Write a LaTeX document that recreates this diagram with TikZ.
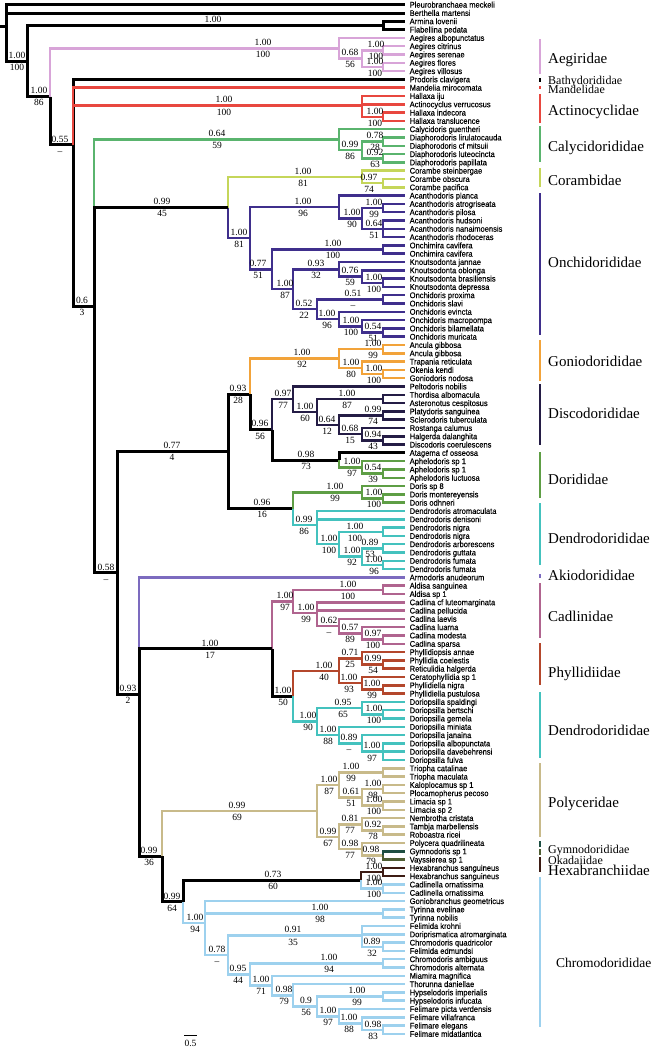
\documentclass[tikz,border=0pt]{standalone}
\usepackage{fontspec}
\setmainfont{Liberation Serif}
\setsansfont{Liberation Sans}
\newfontfamily\tipfont[FakeStretch=0.92,FakeBold=0.2]{Liberation Sans}
\usetikzlibrary{calc}

\definecolor{aegc}{RGB}{216,164,216}
\definecolor{actc}{RGB}{232,71,63}
\definecolor{cyc}{RGB}{90,180,110}
\definecolor{corc}{RGB}{197,214,90}
\definecolor{oncc}{RGB}{63,47,140}
\definecolor{gonc}{RGB}{242,163,58}
\definecolor{disc}{RGB}{36,28,69}
\definecolor{dorc}{RGB}{94,158,69}
\definecolor{denc}{RGB}{68,194,190}
\definecolor{akic}{RGB}{124,107,191}
\definecolor{cadc}{RGB}{176,100,143}
\definecolor{phyc}{RGB}{180,71,44}
\definecolor{polc}{RGB}{200,186,138}
\definecolor{gymc}{RGB}{30,78,66}
\definecolor{okac}{RGB}{79,94,51}
\definecolor{hexc}{RGB}{61,28,20}
\definecolor{chrc}{RGB}{157,209,238}

% internal node = mean of its children, put at column x
\newcommand{\cltwo}[4]{\path ($(#3)!.5!(#4)$) coordinate (#1m); \coordinate (#1) at (#1m -| #2,0);}
\newcommand{\clthree}[5]{\path ($0.333333*(#3)+0.333333*(#4)+0.333334*(#5)$) coordinate (#1m); \coordinate (#1) at (#1m -| #2,0);}
\newcommand{\clfour}[6]{\path ($0.25*(#3)+0.25*(#4)+0.25*(#5)+0.25*(#6)$) coordinate (#1m); \coordinate (#1) at (#1m -| #2,0);}
% posterior above, bootstrap below the branch into a node
\newcommand{\sv}[4]{\node[pp] (#1p) at (#1 -| #2,0) {#3}; \node[bs] (#1b) at (#1 -| #2,0) {\vphantom{0}#4};}

\tikzset{
  br/.style={line width=2.5pt},
  bk/.style={line width=3pt, black},
  tip/.style={font=\tipfont\fontsize{8.2}{8.5}\selectfont, anchor=base west, inner sep=0pt},
  pp/.style={font=\fontsize{9.5}{10}\selectfont, anchor=south, inner sep=0pt, yshift=2.4pt},
  bs/.style={font=\fontsize{9.5}{10}\selectfont, anchor=north, inner sep=0pt, yshift=-2.8pt},
  fam/.style={font=\fontsize{15}{16}\selectfont, anchor=base west, inner sep=0pt},
  smallfam/.style={font=\fontsize{12}{13}\selectfont, anchor=base west, inner sep=0pt},
  bar/.style={line width=2.6pt},
}

\begin{document}
\begin{tikzpicture}[x=1pt,y=-1pt]
\useasboundingbox (0,0) rectangle (653,1047);
% tips
\foreach \nm [count=\i] in {Pleurobranchaea meckeli, Berthella martensi, Armina lovenii, Flabellina pedata,
 Aegires albopunctatus, Aegires citrinus, Aegires serenae, Aegires flores, Aegires villosus,
 Prodoris clavigera, Mandelia mirocomata, Hallaxa iju, Actinocyclus verrucosus, Hallaxa indecora,
 Hallaxa translucence, Calycidoris guentheri, Diaphorodoris lirulatocauda, Diaphorodoris cf mitsuii,
 Diaphorodoris luteocincta, Diaphorodoris papillata, Corambe steinbergae, Corambe obscura,
 Corambe pacifica, Acanthodoris planca, Acanthodoris atrogriseata, Acanthodoris pilosa,
 Acanthodoris hudsoni, Acanthodoris nanaimoensis, Acanthodoris rhodoceras, Onchimira cavifera,
 Onchimira cavifera, Knoutsodonta jannae, Knoutsodonta oblonga, Knoutsodonta brasiliensis,
 Knoutsodonta depressa, Onchidoris proxima, Onchidoris slavi, Onchidoris evincta,
 Onchidoris macropompa, Onchidoris bilamellata, Onchidoris muricata, Ancula gibbosa, Ancula gibbosa,
 Trapania reticulata, Okenia kendi, Goniodoris nodosa, Peltodoris nobilis, Thordisa albomacula,
 Asteronotus cespitosus, Platydoris sanguinea, Sclerodoris tuberculata, Rostanga calumus,
 Halgerda dalanghita, Discodoris coerulescens, Atagema cf osseosa, Aphelodoris sp 1,
 Aphelodoris sp 1, Aphelodoris luctuosa, Doris sp 8, Doris montereyensis, Doris odhneri,
 Dendrodoris atromaculata, Dendrodoris denisoni, Dendrodoris nigra, Dendrodoris nigra,
 Dendrodoris arborescens, Dendrodoris guttata, Dendrodoris fumata, Dendrodoris fumata,
 Armodoris anudeorum, Aldisa sanguinea, Aldisa sp 1, Cadlina cf luteomarginata, Cadlina pellucida,
 Cadlina laevis, Cadlina luarna, Cadlina modesta, Cadlina sparsa, Phyllidiopsis annae,
 Phyllidia coelestis, Reticulidia halgerda, Ceratophyllidia sp 1, Phyllidiella nigra,
 Phyllidiella pustulosa, Doriopsilla spaldingi, Doriopsilla bertschi, Doriopsilla gemela,
 Doriopsilla miniata, Doriopsilla janaina, Doriopsilla albopunctata, Doriopsilla davebehrensi,
 Doriopsilla fulva, Triopha catalinae, Triopha maculata, Kaloplocamus sp 1, Plocamopherus pecoso,
 Limacia sp 1, Limacia sp 2, Nembrotha cristata, Tambja marbellensis, Roboastra ricei,
 Polycera quadrilineata, Gymnodoris sp 1, Vayssierea sp 1, Hexabranchus sanguineus,
 Hexabranchus sanguineus, Cadlinella ornatissima, Cadlinella ornatissima, Goniobranchus geometricus,
 Tyrinna evelinae, Tyrinna nobilis, Felimida krohni, Doriprismatica atromarginata,
 Chromodoris quadricolor, Felimida edmundsi, Chromodoris ambiguus, Chromodoris alternata,
 Miamira magnifica, Thorunna daniellae, Hypselodoris imperialis, Hypselodoris infucata,
 Felimare picta verdensis, Felimare villafranca, Felimare elegans, Felimare midatlantica}{
  \coordinate (t\i) at (405,{4.7+8.3*(\i-1)});
  \node[tip] (l\i) at (409.5,{4.7+8.3*(\i-1)+2.9}) {\nm};
}
%
\cltwo{AF}{383}{t3}{t4}
\cltwo{AEG3}{383}{t6}{t7}
\cltwo{AEG4}{383}{t8}{t9}
\cltwo{AEG2}{362}{AEG3}{AEG4}
\cltwo{AEG}{339}{t5}{AEG2}
\cltwo{HAL}{383}{t14}{t15}
\clthree{ACT}{362}{t12}{t13}{HAL}
\cltwo{DIA1}{383}{t17}{t18}
\cltwo{DIA2}{383}{t19}{t20}
\cltwo{DIA}{362}{DIA1}{DIA2}
\cltwo{CAL}{339}{t16}{DIA}
\cltwo{COR2}{383}{t22}{t23}
\cltwo{COR}{362}{t21}{COR2}
\cltwo{ACA3}{383}{t25}{t26}
\clthree{ACA4}{383}{t27}{t28}{t29}
\cltwo{ACA2}{362}{ACA3}{ACA4}
\cltwo{ACA}{339}{t24}{ACA2}
\cltwo{ONCH}{383}{t30}{t31}
\cltwo{KNO3}{383}{t34}{t35}
\cltwo{KNO2}{362}{t33}{KNO3}
\cltwo{KNO}{339}{t32}{KNO2}
\cltwo{ONP}{383}{t36}{t37}
\cltwo{ON7}{383}{t40}{t41}
\cltwo{ON6}{362}{t39}{ON7}
\cltwo{ON5}{339}{t38}{ON6}
\cltwo{ON4}{317}{ONP}{ON5}
\cltwo{ON3}{293}{KNO}{ON4}
\cltwo{ON2}{272}{ONCH}{ON3}
\cltwo{ONC}{250}{ACA}{ON2}
\cltwo{NB}{228}{COR}{ONC}
%
\cltwo{ANC}{383}{t42}{t43}
\cltwo{GON3}{383}{t45}{t46}
\cltwo{GON2}{362}{t44}{GON3}
\cltwo{GON}{339}{ANC}{GON2}
\cltwo{DIS3}{383}{t48}{t49}
\cltwo{DIS5}{383}{t50}{t51}
\cltwo{DIS7}{383}{t53}{t54}
\cltwo{DIS6}{362}{t52}{DIS7}
\cltwo{DIS4}{339}{DIS5}{DIS6}
\cltwo{DIS2}{317}{DIS3}{DIS4}
\cltwo{DIS1}{293}{t47}{DIS2}
\cltwo{DOR3}{383}{t57}{t58}
\cltwo{DOR2}{362}{t56}{DOR3}
\cltwo{DOR}{339}{t55}{DOR2}
\cltwo{DIS}{272}{DIS1}{DOR}
\cltwo{GD}{250}{GON}{DIS}
\cltwo{DORIS2}{383}{t60}{t61}
\cltwo{DORIS}{362}{t59}{DORIS2}
\cltwo{DEN3}{383}{t64}{t65}
\cltwo{DEN5}{383}{t66}{t67}
\cltwo{DEN6}{383}{t68}{t69}
\cltwo{DEN4}{362}{DEN5}{DEN6}
\cltwo{DEN2}{339}{DEN3}{DEN4}
\clthree{DEN}{317}{t62}{t63}{DEN2}
\cltwo{DD}{293}{DORIS}{DEN}
\cltwo{GDD}{228}{GD}{DD}
%
\cltwo{ALD}{383}{t71}{t72}
\cltwo{CAD5}{383}{t77}{t78}
\cltwo{CAD4}{362}{t76}{CAD5}
\cltwo{CAD3}{339}{t75}{CAD4}
\clthree{CAD2}{317}{t73}{t74}{CAD3}
\cltwo{CAD}{293}{ALD}{CAD2}
\cltwo{PHY2}{383}{t80}{t81}
\cltwo{PHY1}{362}{t79}{PHY2}
\cltwo{PHY4}{383}{t83}{t84}
\cltwo{PHY3}{362}{t82}{PHY4}
\cltwo{PHY}{339}{PHY1}{PHY3}
\cltwo{DOP2}{383}{t86}{t87}
\cltwo{DOP1}{362}{t85}{DOP2}
\clthree{DOP5}{383}{t90}{t91}{t92}
\cltwo{DOP4}{362}{t89}{DOP5}
\cltwo{DOP3}{339}{t88}{DOP4}
\cltwo{DOP}{317}{DOP1}{DOP3}
\cltwo{PD}{293}{PHY}{DOP}
\cltwo{CP}{272}{CAD}{PD}
%
\cltwo{TRI}{383}{t93}{t94}
\cltwo{KP}{383}{t95}{t96}
\cltwo{LIM}{383}{t97}{t98}
\cltwo{POL3}{362}{KP}{LIM}
\cltwo{POL1}{339}{TRI}{POL3}
\cltwo{TR}{383}{t100}{t101}
\cltwo{NTR}{362}{t99}{TR}
\cltwo{GYO}{383}{t103}{t104}
\cltwo{POL4}{362}{t102}{GYO}
\cltwo{POL2}{339}{NTR}{POL4}
\cltwo{POL}{317}{POL1}{POL2}
\cltwo{HEX}{383}{t105}{t106}
\cltwo{CADL}{383}{t107}{t108}
\cltwo{HC}{361}{HEX}{CADL}
\cltwo{TYR}{383}{t110}{t111}
\cltwo{FEL2}{383}{t114}{t115}
\clthree{FEL}{362}{t112}{t113}{FEL2}
\cltwo{CHA}{383}{t116}{t117}
\cltwo{HYP}{383}{t120}{t121}
\cltwo{FEL3}{383}{t124}{t125}
\cltwo{FMc}{362}{t123}{FEL3}
\cltwo{FMb}{339}{t122}{FMc}
\cltwo{HF}{317}{HYP}{FMb}
\cltwo{THF}{293}{t119}{HF}
\cltwo{MTH}{272}{t118}{THF}
\cltwo{CMT}{250}{CHA}{MTH}
\cltwo{FCM}{228}{FEL}{CMT}
\clthree{CHR}{205}{t109}{TYR}{FCM}
\cltwo{HCH}{183}{HC}{CHR}
\cltwo{PH}{162}{POL}{HCH}
%
\clthree{LOW}{139}{t70}{CP}{PH}
\cltwo{UPL}{117}{GDD}{LOW}
\clthree{DN}{94}{CAL}{NB}{UPL}
\clfour{nC}{73}{t10}{t11}{ACT}{DN}
\cltwo{nB}{50}{AEG}{nC}
\cltwo{nA}{27}{AF}{nB}
\clthree{nroot}{6}{t1}{t2}{nA}
\coordinate (r0) at (nroot -| 0,0);
% backbone
\draw[bk] (r0) -- (nroot);
\foreach \a/\b in {nroot/t1, nroot/t2, nroot/nA, nA/AF, AF/t3, AF/t4, nA/nB, nB/nC, nC/t10, nC/DN,
  DN/UPL, UPL/GDD, UPL/LOW, GDD/GD, GDD/DD, GD/DIS, DIS/DOR, DOR/t55, LOW/PH, PH/HCH, HCH/HC, CP/PD}
  \draw[bk] (\a) |- (\b);
% families
\foreach \a/\b in {nB/AEG, AEG/t5, AEG/AEG2, AEG2/AEG3, AEG2/AEG4, AEG3/t6, AEG3/t7, AEG4/t8, AEG4/t9}
  \draw[br,aegc] (\a) |- (\b);
\foreach \a/\b in {nC/t11, nC/ACT, ACT/t12, ACT/t13, ACT/HAL, HAL/t14, HAL/t15}
  \draw[br,actc] (\a) |- (\b);
\foreach \a/\b in {DN/CAL, CAL/t16, CAL/DIA, DIA/DIA1, DIA/DIA2, DIA1/t17, DIA1/t18, DIA2/t19, DIA2/t20}
  \draw[br,cyc] (\a) |- (\b);
\foreach \a/\b in {NB/COR, COR/t21, COR/COR2, COR2/t22, COR2/t23}
  \draw[br,corc] (\a) |- (\b);
\foreach \a/\b in {NB/ONC, ONC/ACA, ONC/ON2, ACA/t24, ACA/ACA2, ACA2/ACA3, ACA2/ACA4, ACA3/t25,
  ACA3/t26, ACA4/t27, ACA4/t28, ACA4/t29, ON2/ONCH, ON2/ON3, ONCH/t30, ONCH/t31, ON3/KNO, ON3/ON4,
  KNO/t32, KNO/KNO2, KNO2/t33, KNO2/KNO3, KNO3/t34, KNO3/t35, ON4/ONP, ON4/ON5, ONP/t36, ONP/t37,
  ON5/t38, ON5/ON6, ON6/t39, ON6/ON7, ON7/t40, ON7/t41}
  \draw[br,oncc] (\a) |- (\b);
\foreach \a/\b in {GD/GON, GON/ANC, GON/GON2, ANC/t42, ANC/t43, GON2/t44, GON2/GON3, GON3/t45, GON3/t46}
  \draw[br,gonc] (\a) |- (\b);
\foreach \a/\b in {DIS/DIS1, DIS1/t47, DIS1/DIS2, DIS2/DIS3, DIS2/DIS4, DIS3/t48, DIS3/t49, DIS4/DIS5,
  DIS4/DIS6, DIS5/t50, DIS5/t51, DIS6/t52, DIS6/DIS7, DIS7/t53, DIS7/t54}
  \draw[br,disc] (\a) |- (\b);
\foreach \a/\b in {DOR/DOR2, DOR2/t56, DOR2/DOR3, DOR3/t57, DOR3/t58, DD/DORIS, DORIS/t59,
  DORIS/DORIS2, DORIS2/t60, DORIS2/t61}
  \draw[br,dorc] (\a) |- (\b);
\foreach \a/\b in {DD/DEN, DEN/t62, DEN/t63, DEN/DEN2, DEN2/DEN3, DEN2/DEN4, DEN3/t64, DEN3/t65,
  DEN4/DEN5, DEN4/DEN6, DEN5/t66, DEN5/t67, DEN6/t68, DEN6/t69, PD/DOP, DOP/DOP1, DOP/DOP3,
  DOP1/t85, DOP1/DOP2, DOP2/t86, DOP2/t87, DOP3/t88, DOP3/DOP4, DOP4/t89, DOP4/DOP5, DOP5/t90,
  DOP5/t91, DOP5/t92}
  \draw[br,denc] (\a) |- (\b);
\draw[br,akic] (LOW) |- (t70);
\foreach \a/\b in {CP/CAD, CAD/ALD, CAD/CAD2, ALD/t71, ALD/t72, CAD2/t73, CAD2/t74, CAD2/CAD3,
  CAD3/t75, CAD3/CAD4, CAD4/t76, CAD4/CAD5, CAD5/t77, CAD5/t78}
  \draw[br,cadc] (\a) |- (\b);
\foreach \a/\b in {PD/PHY, PHY/PHY1, PHY/PHY3, PHY1/t79, PHY1/PHY2, PHY2/t80, PHY2/t81, PHY3/t82,
  PHY3/PHY4, PHY4/t83, PHY4/t84}
  \draw[br,phyc] (\a) |- (\b);
\foreach \a/\b in {PH/POL, POL/POL1, POL/POL2, POL1/TRI, POL1/POL3, TRI/t93, TRI/t94, POL3/KP,
  POL3/LIM, KP/t95, KP/t96, LIM/t97, LIM/t98, POL2/NTR, POL2/POL4, NTR/t99, NTR/TR, TR/t100,
  TR/t101, POL4/t102, POL4/GYO}
  \draw[br,polc] (\a) |- (\b);
\draw[br,gymc] (GYO) |- (t103);
\draw[br,okac] (GYO) |- (t104);
\foreach \a/\b in {HC/HEX, HEX/t105, HEX/t106}
  \draw[br,hexc] (\a) |- (\b);
\foreach \a/\b in {HC/CADL, CADL/t107, CADL/t108, HCH/CHR, CHR/t109, CHR/TYR, CHR/FCM, TYR/t110,
  TYR/t111, FCM/FEL, FCM/CMT, FEL/t112, FEL/t113, FEL/FEL2, FEL2/t114, FEL2/t115, CMT/CHA,
  CMT/MTH, CHA/t116, CHA/t117, MTH/t118, MTH/THF, THF/t119, THF/HF, HF/HYP, HF/FMb, HYP/t120,
  HYP/t121, FMb/t122, FMb/FMc, FMc/t123, FMc/FEL3, FEL3/t124, FEL3/t125}
  \draw[br,chrc] (\a) |- (\b);
% black branches drawn last over the polytomy stems
\draw[bk] (DN) |- (NB);
\draw[bk] (LOW) |- (CP);
% support values
\sv{nA}{17}{1.00}{100}
\node[pp] (AFp) at (AF -| 213,0) {1.00};
\sv{nB}{39}{1.00}{86}
\sv{AEG}{263}{1.00}{100}
\sv{AEG2}{350}{0.68}{56}
\sv{AEG3}{376}{1.00}{100}
\sv{AEG4}{375}{1.00}{100}
\sv{nC}{60}{0.55}{--}
\sv{ACT}{224}{1.00}{100}
\sv{HAL}{375}{1.00}{100}
\sv{DN}{82}{0.6}{3}
\sv{CAL}{217}{0.64}{59}
\sv{DIA}{350}{0.99}{86}
\sv{DIA1}{375}{0.78}{28}
\sv{DIA2}{375}{0.92}{63}
\sv{NB}{162}{0.99}{45}
\sv{COR}{303}{1.00}{81}
\sv{COR2}{369}{0.97}{74}
\sv{ONC}{239}{1.00}{81}
\sv{ACA}{303}{1.00}{96}
\sv{ACA2}{352}{1.00}{90}
\sv{ACA3}{374}{1.00}{99}
\sv{ACA4}{374}{0.64}{51}
\sv{ON2}{258}{0.77}{51}
\sv{ONCH}{333}{1.00}{100}
\sv{ON3}{285}{1.00}{87}
\sv{KNO}{316}{0.93}{32}
\sv{KNO2}{350}{0.76}{59}
\sv{KNO3}{374}{1.00}{100}
\sv{ON4}{304}{0.52}{22}
\sv{ONP}{353}{0.51}{--}
\sv{ON5}{327}{1.00}{96}
\sv{ON6}{351}{1.00}{100}
\sv{ON7}{373}{0.54}{51}
\sv{UPL}{106}{0.58}{--}
\sv{GDD}{172}{0.77}{4}
\sv{GD}{238}{0.93}{28}
\sv{GON}{302}{1.00}{92}
\sv{ANC}{373}{1.00}{99}
\sv{GON2}{351}{1.00}{80}
\sv{GON3}{374}{1.00}{100}
\sv{DIS}{260}{0.96}{56}
\sv{DIS1}{283}{0.97}{77}
\sv{DIS2}{305}{1.00}{60}
\sv{DIS3}{347}{1.00}{87}
\sv{DIS4}{327}{0.64}{12}
\sv{DIS5}{373}{0.99}{74}
\sv{DIS6}{350}{0.68}{15}
\sv{DIS7}{373}{0.94}{43}
\sv{DOR}{306}{0.98}{73}
\sv{DOR2}{352}{1.00}{97}
\sv{DOR3}{373}{0.54}{39}
\sv{DD}{262}{0.96}{16}
\sv{DORIS}{335}{1.00}{99}
\sv{DORIS2}{374}{1.00}{100}
\sv{DEN}{304}{0.99}{86}
\sv{DEN2}{329}{1.00}{100}
\sv{DEN3}{355}{1.00}{100}
\sv{DEN4}{352}{1.00}{92}
\sv{DEN5}{370}{0.89}{53}
\sv{DEN6}{374}{1.00}{96}
\sv{LOW}{128}{0.93}{2}
\sv{CP}{210}{1.00}{17}
\sv{CAD}{285}{1.00}{97}
\sv{ALD}{348}{1.00}{100}
\sv{CAD2}{306}{1.00}{99}
\sv{CAD3}{329}{0.62}{--}
\sv{CAD4}{350}{0.57}{89}
\sv{CAD5}{373}{0.97}{100}
\sv{PD}{283}{1.00}{50}
\sv{PHY}{324}{1.00}{40}
\sv{PHY1}{350}{0.71}{25}
\sv{PHY2}{373}{0.99}{54}
\sv{PHY3}{349}{1.00}{93}
\sv{PHY4}{372}{1.00}{99}
\sv{DOP}{308}{1.00}{90}
\sv{DOP1}{343}{0.95}{65}
\sv{DOP2}{374}{1.00}{100}
\sv{DOP3}{328}{1.00}{88}
\sv{DOP4}{349}{0.89}{--}
\sv{DOP5}{372}{1.00}{97}
\sv{PH}{149}{0.99}{36}
\sv{POL}{237}{0.99}{69}
\sv{POL1}{329}{1.00}{87}
\sv{TRI}{351}{1.00}{99}
\sv{POL3}{351}{0.61}{51}
\sv{KP}{373}{1.00}{98}
\sv{LIM}{374}{1.00}{100}
\sv{POL2}{328}{0.99}{67}
\sv{NTR}{350}{0.81}{77}
\sv{TR}{373}{0.92}{78}
\sv{POL4}{350}{0.98}{77}
\sv{GYO}{371}{0.98}{79}
\sv{HCH}{172}{0.99}{64}
\sv{HC}{273}{0.73}{60}
\sv{HEX}{374}{1.00}{100}
\sv{CADL}{374}{1.00}{100}
\sv{CHR}{195}{1.00}{94}
\sv{TYR}{320}{1.00}{98}
\sv{FCM}{217}{0.78}{--}
\sv{FEL}{293}{0.91}{35}
\sv{FEL2}{372}{0.89}{32}
\sv{CMT}{238}{0.95}{44}
\sv{CHA}{329}{1.00}{94}
\sv{MTH}{261}{1.00}{71}
\sv{THF}{284}{0.98}{79}
\sv{HF}{306}{0.9}{56}
\sv{HYP}{357}{1.00}{99}
\sv{FMb}{328}{1.00}{97}
\sv{FMc}{349}{1.00}{88}
\sv{FEL3}{373}{0.98}{83}
% family bars and names
\foreach \c/\ya/\yb in {aegc/39/74, black/78/82, actc/86/89, actc/94/123, cyc/126/162, corc/168/187,
  oncc/193/335, gonc/340/381, disc/384/445, dorc/452/498, denc/503/565, akic/574/578, cadc/583/638,
  phyc/643/685, denc/692/758, polc/763/837, gymc/841/847, okac/849/855, hexc/857/872, chrc/877/1027}
  \draw[bar,\c] (540,\ya) -- (540,\yb);
\foreach \t/\y [count=\k] in {Aegiridae/58.3, Actinocyclidae/110, Calycidorididae/146, Corambidae/180.7,
  Onchidorididae/262, Goniodorididae/361.7, Discodorididae/413, Dorididae/479, Dendrodorididae/538,
  Akiodorididae/575, Cadlinidae/616.7, Phyllidiidae/672.7, Dendrodorididae/730, Polyceridae/802.7,
  Hexabranchiidae/870}
  \node[fam] (fam\k) at (548,{\y+5}) {\t};
\foreach \t/\y [count=\k] in {Bathydorididae/80, Mandelidae/89, Gymnodorididae/849, Okadaiidae/860}
  \node[smallfam] (sfam\k) at (548,{\y+4}) {\t};
\node[fam, font=\fontsize{13.5}{14}\selectfont] (chrfam) at (556,967.5) {Chromodorididae};
% scale
\coordinate (sca) at (184,1035);
\coordinate (scb) at (197,1035);
\draw[line width=0.9pt] (sca) -- (scb);
\node[bs, yshift=0pt] (scl) at ($(sca)!.5!(scb)+(0,2.5)$) {0.5};
\end{tikzpicture}
\end{document}
